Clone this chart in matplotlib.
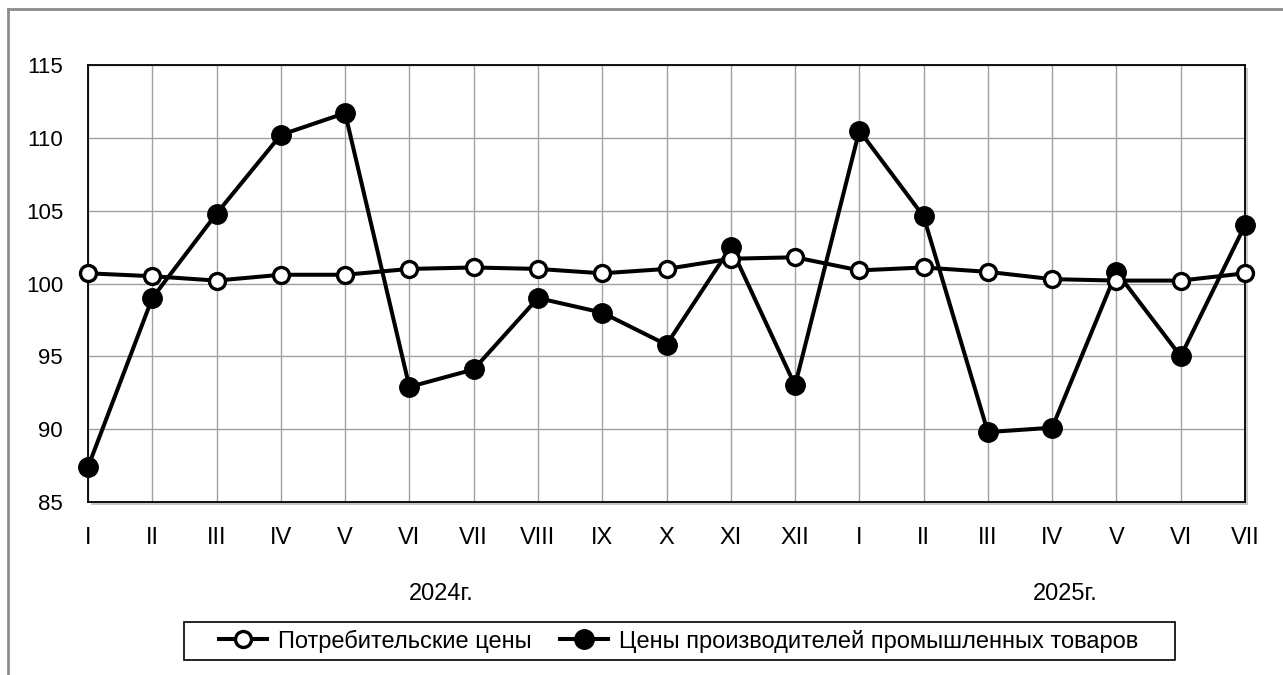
import matplotlib.pyplot as plt
from matplotlib.lines import Line2D
from matplotlib.patches import Rectangle
from matplotlib import rcParams
rcParams['font.family'] = ['Liberation Sans', 'DejaVu Sans']

months = ['I', 'II', 'III', 'IV', 'V', 'VI', 'VII', 'VIII', 'IX', 'X', 'XI', 'XII',
          'I', 'II', 'III', 'IV', 'V', 'VI', 'VII']
consumer = [100.7, 100.5, 100.2, 100.6, 100.6, 101.0, 101.1, 101.0, 100.7, 101.0,
            101.7, 101.8, 100.9, 101.1, 100.8, 100.3, 100.2, 100.2, 100.7]
producer = [87.4, 99.0, 104.8, 110.2, 111.7, 92.9, 94.1, 99.0, 98.0, 95.8,
            102.5, 93.0, 110.5, 104.6, 89.8, 90.1, 100.8, 95.0, 104.0]
years = ['2024г.', '2025г.']
year_pos = [5.5, 15.2]
yticks = [85, 90, 95, 100, 105, 110, 115]

W, H = 1283, 675
fig = plt.figure(figsize=(W / 100, H / 100), dpi=100)
L, R, T, B = 88, 1245, 65, 502
# soft shadow behind the plot area
fig.add_artist(Rectangle(((L + 3) / W, 1 - (B + 3) / H), (R - L) / W, (B - T) / H,
                         transform=fig.transFigure, fc='#c8c8c8', ec='none', zorder=0))
ax = fig.add_axes([L / W, 1 - B / H, (R - L) / W, (B - T) / H])
ax.set_zorder(1)

# outer gray frame (top and left visible)
fig.add_artist(Line2D([8 / W, 8 / W], [0, 1 - 9 / H], color='#8c8c8c', lw=2))
fig.add_artist(Line2D([8 / W, 1], [1 - 9 / H, 1 - 9 / H], color='#8c8c8c', lw=2))

x = list(range(len(months)))
ax.plot(x, producer, color='black', lw=2.9, marker='o', ms=14,
        mfc='black', mec='black', zorder=3, clip_on=False)
ax.plot(x, consumer, color='black', lw=2.9, marker='o', ms=11.5,
        mfc='white', mec='black', mew=2.4, zorder=4, clip_on=False)

ax.set_xlim(0, len(months) - 1)
ax.set_ylim(85, 115)
ax.set_xticks(x)
ax.set_xticklabels(months)
ax.set_yticks(yticks)
ax.grid(True, color='#a0a0a0', lw=1)
ax.set_axisbelow(True)
ax.tick_params(length=0)
ax.tick_params(axis='x', pad=18, labelsize=17)
ax.tick_params(axis='y', pad=18, labelsize=16)
for s in ax.spines.values():
    s.set_linewidth(1.3)
    s.set_color('black')

for lbl, p in zip(years, year_pos):
    ax.text(p, -0.21, lbl, transform=ax.get_xaxis_transform(),
            ha='center', va='center', fontsize=17)

# legend box drawn separately (wider side padding than matplotlib allows)
fig.add_artist(Rectangle((184 / W, 1 - 660 / H), (1175 - 184) / W, 38 / H,
                         transform=fig.transFigure, fc='white', ec='black', lw=1.2, zorder=2))
handles = [
    Line2D([0], [0], color='black', lw=2.9, marker='o', ms=11.5, mfc='white', mec='black', mew=2.4),
    Line2D([0], [0], color='black', lw=2.9, marker='o', ms=14, mfc='black', mec='black'),
]
leg = fig.legend(handles, ['Потребительские цены', 'Цены производителей промышленных товаров'],
                 loc='center', bbox_to_anchor=(679 / W, 1 - 641 / H), ncol=2,
                 fontsize=17, frameon=False, handlelength=2.0,
                 handletextpad=0.5, columnspacing=1.2, borderpad=0.3)
leg.set_zorder(3)

fig.savefig('out.png', dpi=100)
